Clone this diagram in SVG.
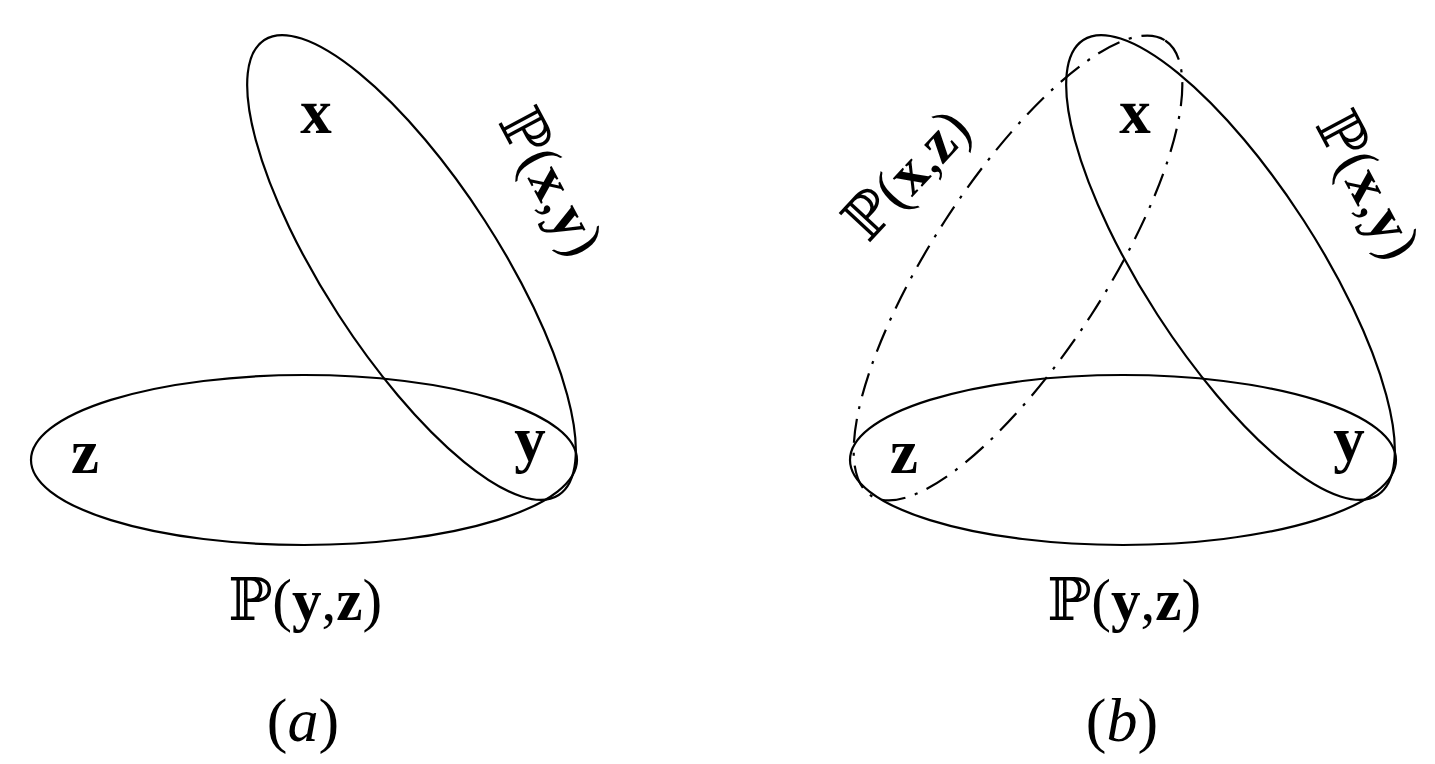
<svg xmlns="http://www.w3.org/2000/svg" width="1435" height="764" viewBox="0 0 1435 764">
<style>
.e{fill:none;stroke:#000;stroke-width:2.2}
.dd{stroke-dasharray:24 10 3 10}
.v{font-family:"Liberation Serif",serif;font-weight:bold;font-size:63px;text-anchor:middle}
.p{font-family:"Liberation Serif",serif;font-size:59px;text-anchor:middle}
.c{font-family:"Liberation Serif",serif;font-size:62px;text-anchor:middle}
.bb{font-family:"DejaVu Serif","DejaVu Sans",serif;font-weight:normal}
.b{font-weight:bold}
.i{font-style:italic}
</style>
<rect width="1435" height="764" fill="#fff"/>
<g id="panel-a">
<g id="set-yz-a"><ellipse class="e" cx="304" cy="460" rx="273" ry="85"/></g>
<g id="set-xy-a"><ellipse class="e" cx="0" cy="0" rx="271" ry="87" transform="translate(411.5 267.5) rotate(57.1)"/></g>
<g id="node-x-a"><text class="v" x="316" y="133">x</text></g>
<g id="node-y-a"><text class="v" x="530" y="460">y</text></g>
<g id="node-z-a"><text class="v" x="85" y="473">z</text></g>
<text class="p" x="305" y="620"><tspan class="bb">ℙ</tspan>(<tspan class="b">y</tspan>,<tspan class="b">z</tspan>)</text>
<text class="p" transform="translate(551 182) rotate(62)" x="0" y="19"><tspan class="bb">ℙ</tspan>(<tspan class="b">x</tspan>,<tspan class="b">y</tspan>)</text>
<text class="c" x="303" y="741">(<tspan class="i">a</tspan>)</text>
</g>
<g id="panel-b">
<g id="set-yz-b"><ellipse class="e" cx="1123" cy="460" rx="273" ry="85"/></g>
<g id="set-xy-b"><ellipse class="e" cx="0" cy="0" rx="271" ry="87" transform="translate(1230.5 267.5) rotate(57.1)"/></g>
<g id="set-xz-b"><ellipse class="e dd" cx="0" cy="0" rx="271" ry="87" transform="translate(1018 268) rotate(-57.1)"/></g>
<g id="node-x-b"><text class="v" x="1135" y="133">x</text></g>
<g id="node-y-b"><text class="v" x="1349" y="460">y</text></g>
<g id="node-z-b"><text class="v" x="904" y="473">z</text></g>
<text class="p" x="1124" y="620"><tspan class="bb">ℙ</tspan>(<tspan class="b">y</tspan>,<tspan class="b">z</tspan>)</text>
<text class="p" transform="translate(1368 185) rotate(62)" x="0" y="19"><tspan class="bb">ℙ</tspan>(<tspan class="b">x</tspan>,<tspan class="b">y</tspan>)</text>
<text class="p" transform="translate(907 175) rotate(-47)" x="0" y="19"><tspan class="bb">ℙ</tspan>(<tspan class="b">x</tspan>,<tspan class="b">z</tspan>)</text>
<text class="c" x="1122" y="741">(<tspan class="i">b</tspan>)</text>
</g>
</svg>
